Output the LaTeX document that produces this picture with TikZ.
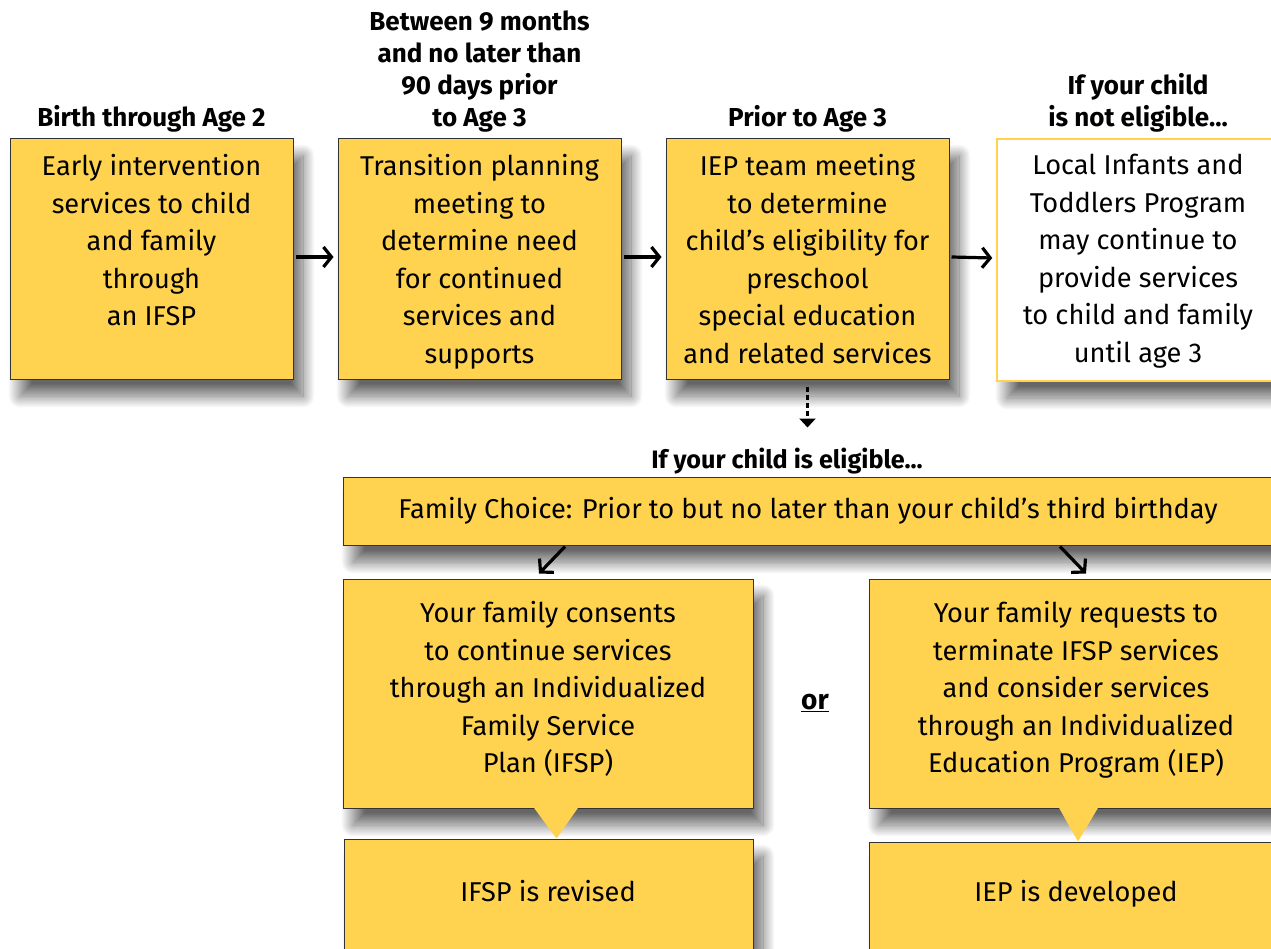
\documentclass[tikz,border=0pt]{standalone}
\usepackage{fontspec}
\setmainfont{Fira Sans}
\usetikzlibrary{arrows.meta,shadows.blur}
\definecolor{boxyellow}{RGB}{255,211,79}
\begin{document}
\begin{tikzpicture}[x=1pt,y=-1pt,
  body/.style={font=\fontsize{27.2}{37.5}\selectfont, align=center, inner sep=0pt},
  bodytop/.style={body, anchor=north},
  ttl/.style={font=\bfseries\fontsize{26}{32}\selectfont, align=center, inner sep=0pt, anchor=south},
  big/.style={font=\bfseries\fontsize{25.2}{28}\selectfont, inner sep=0pt},
  ybox/.style={rectangle, draw=black!80, line width=1pt, fill=boxyellow, inner sep=0pt,
    blur shadow={shadow xshift=10pt, shadow yshift=-17pt, shadow blur radius=12pt, shadow blur steps=30, shadow opacity=60}},
  wbox/.style={ybox, draw=boxyellow, fill=white, line width=1.5pt},
  arr/.style={line width=3.2pt, -{Straight Barb[length=8pt,width=20pt]}},
  darr/.style={line width=3.2pt, -{Straight Barb[length=9pt,width=20pt]}},
  dotarr/.style={line width=3pt, dash pattern=on 5pt off 3pt, -{Triangle[length=9pt,width=16pt]}},
]
\useasboundingbox (0,0) rectangle (1271,949);
\clip (0,0) rectangle (1271,949);

% top row boxes
\node[ybox, minimum width=283pt, minimum height=240pt] (b1) at (151.5,259) {};
\node[ybox, minimum width=283pt, minimum height=240pt] (b2) at (479.5,259) {};
\node[ybox, minimum width=283pt, minimum height=240pt] (b3) at (807.5,259) {};
\node[wbox, minimum width=282pt, minimum height=242pt] (b4) at (1138,260) {};

\node[bodytop] (t1) at ([yshift=-16pt]b1.north) {Early intervention\\services to child\\and family\\through\\an IFSP};
\node[bodytop] (t2) at ([yshift=-16pt]b2.north) {Transition planning\\meeting to\\determine need\\for continued\\services and\\supports};
\node[bodytop] (t3) at ([yshift=-16pt]b3.north) {IEP team meeting\\to determine\\child’s eligibility for\\preschool\\special education\\and related services};
\node[bodytop] (t4) at ([yshift=-16pt]b4.north) {Local Infants and\\Toddlers Program\\may continue to\\provide services\\to child and family\\until age 3};

\node[ttl] (h1) at ([yshift=6pt]b1.north) {Birth through Age 2};
\node[ttl] (h2) at ([yshift=6pt]b2.north) {Between 9 months\\and no later than\\90 days prior\\to Age 3};
\node[ttl] (h3) at ([yshift=6pt]b3.north) {Prior to Age 3};
\node[ttl] (h4) at ([yshift=6pt]b4.north) {If your child\\is not eligible...};

\draw[arr] ([xshift=2pt,yshift=2pt]b1.east) -- ([xshift=-4pt,yshift=2pt]b2.west);
\draw[arr] ([xshift=2pt,yshift=2pt]b2.east) -- ([xshift=-4pt,yshift=2pt]b3.west);
\draw[arr] ([xshift=2pt,yshift=2pt]b3.east) -- ([xshift=-4pt,yshift=2pt]b4.west);

\draw[dotarr] ([yshift=-7pt]b3.south) -- ++(0,41);

\node[big] (elig) at (787,461) {If your child is eligible...};

% family choice
\node[ybox, minimum width=930pt, minimum height=68pt, font=\fontsize{27.2}{30}\selectfont] (fc) at (808,511) {Family Choice: Prior to but no later than your child’s third birthday};

\draw[darr] ([xshift=-243pt,yshift=-1pt]fc.south) -- ++(-26,27);
\draw[darr] ([xshift=252pt,yshift=-1pt]fc.south) -- ++(26,27);

% options
\node[ybox, minimum width=410pt, minimum height=229pt] (bl) at (548,693.5) {};
\node[ybox, minimum width=414pt, minimum height=229pt] (br) at (1076,693.5) {};
\node[bodytop] (tl) at ([yshift=-23pt]bl.north) {Your family consents\\to continue services\\through an Individualized\\Family Service\\Plan (IFSP)};
\node[bodytop] (tr) at ([yshift=-23pt]br.north) {Your family requests to\\terminate IFSP services\\and consider services\\through an Individualized\\Education Program (IEP)};

\node[big, font=\bfseries\fontsize{28}{30}\selectfont] (or) at (815,703) {\underline{or}};

% results
\node[ybox, minimum width=409pt, minimum height=150pt] (bl2) at (548.5,914) {};
\node[ybox, minimum width=414pt, minimum height=150pt] (br2) at (1076,917) {};
\node[body] (tl2) at (548,891) {IFSP is revised};
\node[body] (tr2) at (1076,894) {IEP is developed};

\fill[boxyellow] ([xshift=-14pt,yshift=0.7pt]bl.south) -- ([xshift=30pt,yshift=0.7pt]bl.south) -- ([xshift=8pt]bl2.north) -- cycle;
\fill[boxyellow] ([xshift=-17pt,yshift=0.7pt]br.south) -- ([xshift=22pt,yshift=0.7pt]br.south) -- ([xshift=2pt]br2.north) -- cycle;
\end{tikzpicture}
\end{document}
